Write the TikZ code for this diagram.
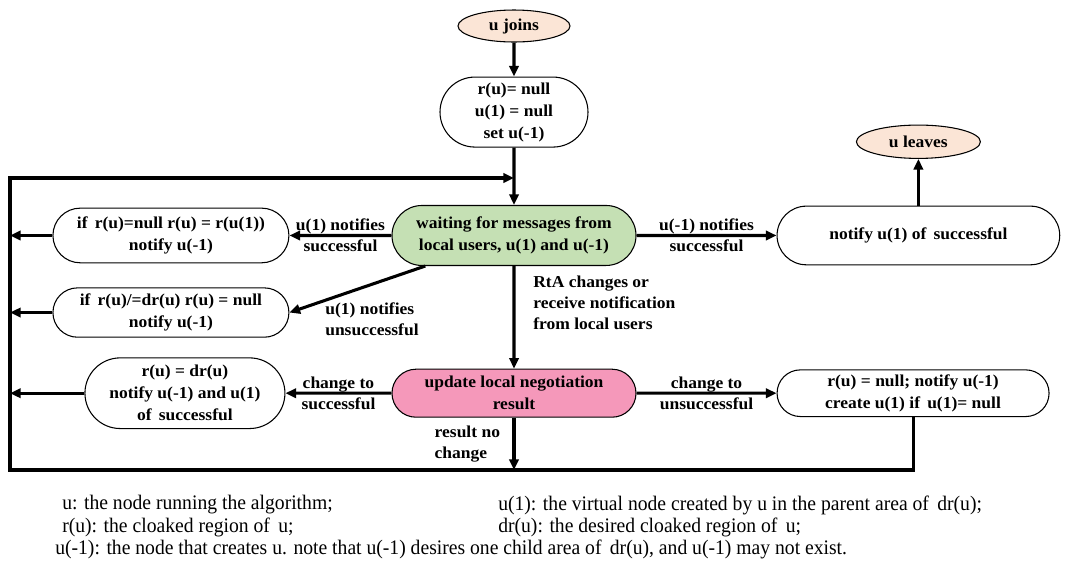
\documentclass[tikz,border=0pt]{standalone}
\usepackage{fontspec}
\setmainfont{Liberation Serif}[FakeStretch=1.05]
\newfontfamily\notefont[FakeStretch=0.95]{Liberation Serif}
\usetikzlibrary{shapes.geometric, shapes.misc, arrows.meta, positioning}

\definecolor{peach}{RGB}{251,229,214}
\definecolor{mossgreen}{RGB}{197,224,180}
\definecolor{rosepink}{RGB}{245,152,186}

\begin{document}
\begin{tikzpicture}[x=0.75pt, y=-0.75pt, >={Triangle[length=8pt,width=7pt]}]
        % Styles
        \tikzset{
            endblock/.style={draw=black, fill=peach, ellipse, line width=0.8pt, inner sep=0pt, font=\fontsize{12.5}{14}\selectfont\bfseries},
            stepblock/.style={draw=black, rounded rectangle, line width=0.8pt, align=center, inner sep=2pt, font=\fontsize{12.5}{16.5}\selectfont\bfseries},
            flowline/.style={->, line width=2.3pt},
            edgelabel/.style={font=\fontsize{12.5}{16}\selectfont\bfseries, align=center},
            notetext/.style={anchor=west, inner sep=0pt, font=\notefont\fontsize{15.5}{17}\selectfont}
        }
        \useasboundingbox (0,0) rectangle (1065,562);

        % Main column
        \node [endblock, minimum width=84pt, minimum height=24pt] (joins) at (514,26) {u joins};
        \node [stepblock, minimum width=115pt, minimum height=52.5pt, below=25.5pt of joins] (init) {r(u)= null\\u(1) = null\\set u(-1)};
        \node [stepblock, fill=mossgreen, minimum width=187pt, minimum height=45pt, below=43pt of init] (waiting) {waiting for messages from\\local users, u(1) and u(-1)};
        \node [stepblock, fill=rosepink, minimum width=187pt, minimum height=36pt, below=77pt of waiting] (update) {update local negotiation\\result};

        % Left column
        \node [stepblock, minimum width=181pt, minimum height=41pt, left=76.5pt of waiting] (setnull) {if\, r(u)=null r(u) = r(u(1))\\notify u(-1)};
        \node [stepblock, minimum width=181pt, minimum height=37pt, below=18pt of setnull] (clearr) {if\, r(u)/=dr(u) r(u) = null\\notify u(-1)};
        \node [stepblock, minimum width=154pt, minimum height=53pt, left=79.5pt of update] (setdr) {r(u) = dr(u)\\notify u(-1) and u(1)\\of\, successful};

        % Right column
        \node [stepblock, minimum width=216pt, minimum height=44pt, right=105pt of waiting] (notifyup) {notify u(1) of\, successful};
        \node [endblock, minimum width=93pt, minimum height=25pt, above=35pt of notifyup] (leaves) {u leaves};
        \node [stepblock, minimum width=208pt, minimum height=35pt, right=105pt of update] (createup) {r(u) = null; notify u(-1)\\create u(1) if\, u(1)= null};

        % Loop corners
        \coordinate (looptop) at (10,178);
        \coordinate (loopbottom) at (10,470);

        % Arrows
        \draw [flowline] (joins) -- (init);
        \draw [flowline] (init) -- (waiting);
        \draw [flowline] (waiting) -- node[edgelabel]{u(1) notifies\\successful} (setnull);
        \draw [flowline] (waiting.199) -- node[edgelabel, pos=0.8, anchor=north west, align=left, yshift=5pt, xshift=2pt]{u(1) notifies\\unsuccessful} (clearr.east);
        \draw [flowline] (waiting) -- node[edgelabel]{u(-1) notifies\\successful} (notifyup);
        \draw [flowline] (leaves.south |- notifyup.north) -- (leaves.south);
        \draw [flowline] (waiting) -- node[edgelabel, pos=0.36, right, align=left, xshift=10pt]{RtA changes or\\receive notification\\from local users} (update);
        \draw [flowline] (update) -- node[edgelabel]{change to\\successful} (setdr);
        \draw [flowline] (update) -- node[edgelabel]{change to\\unsuccessful} (createup);
        \draw [flowline] (update.south) -- node[edgelabel, left, align=left, xshift=-6pt]{result no\\change} (update.south |- loopbottom);

        \draw [flowline] (setnull.west) -- (setnull.west -| looptop);
        \draw [flowline] (clearr.west) -- (clearr.west -| looptop);
        \draw [flowline] (setdr.west) -- (setdr.west -| looptop);
        \draw [flowline] (createup.south) |- (loopbottom) -- (looptop) -- (looptop -| waiting.north);

        % Notes
        \node [notetext] (noteu) at (62,505) {u: the node running the algorithm;};
        \node [notetext] (noteparent) at (498,505) {u(1): the virtual node created by u in the parent area of\, dr(u);};
        \node [notetext] (noter) at (62,527) {r(u): the cloaked region of\, u;};
        \node [notetext] (notedr) at (498,527) {dr(u): the desired cloaked region of\, u;};
        \node [notetext] (notechild) at (55,549) {u(-1): the node that creates u. note that u(-1) desires one child area of\, dr(u), and u(-1) may not exist.};
\end{tikzpicture}
\end{document}
